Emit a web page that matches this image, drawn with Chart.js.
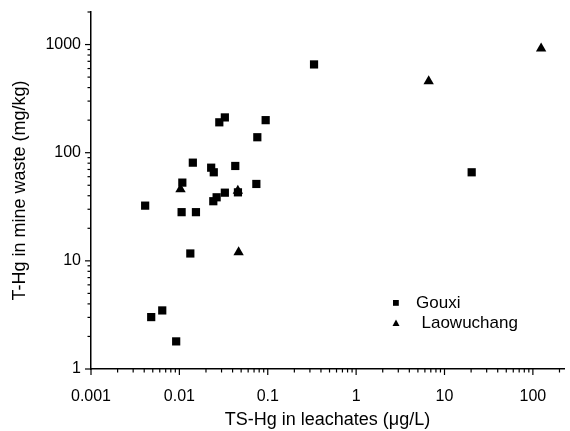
<!DOCTYPE html>
<html>
<head>
<meta charset="utf-8">
<script src="https://cdn.jsdelivr.net/npm/chart.js@4"></script>
<style>
  body { margin: 0; background: #fff; }
  #wrap { width: 570px; height: 431px; }
</style>
</head>
<body>
<div id="wrap"><canvas id="grafico"></canvas></div>
<script>
// TS-Hg in leachates (ug/L) vs T-Hg in mine waste (mg/kg)
const gouxiX = [0.0041, 0.0048, 0.0064, 0.0092, 0.0106, 0.0108, 0.0133, 0.0142, 0.0154, 0.0229, 0.0242, 0.0245, 0.0264, 0.0283, 0.0327, 0.0327, 0.0429, 0.046, 0.0743, 0.0762, 0.0947, 0.334, 20.3];
const gouxiY = [32.4, 3.02, 3.48, 1.80, 28.2, 52.9, 11.7, 80.9, 28.2, 72.7, 35.6, 65.9, 38.7, 191, 42.7, 212, 75.4, 43, 51.4, 139, 200, 655, 65.9];
const laowuX = [0.0103, 0.0459, 0.0468, 6.62, 124];
const laowuY = [45.9, 44.6, 12.0, 459, 920];
const seriesNames = ['Gouxi', 'Laowuchang'];
const xTickLabels = [0.001, 0.01, 0.1, 1, 10, 100];
const yTickLabels = [1, 10, 100, 1000];

const FONT = '"Liberation Sans", Arial, sans-serif';

function pares(xs, ys) {
    return xs.map(function (x, i) { return { x: x, y: ys[i] }; });
}

function ehPotencia(v) {
    const l = Math.log10(v);
    return Math.abs(l - Math.round(l)) < 1e-9;
}

function ehInteiro(v) {
    const s = v / Math.pow(10, Math.floor(Math.log10(v) + 1e-9));
    return Math.abs(s - Math.round(s)) < 1e-6;
}

function rotulo(lista, v) {
    const t = lista.find(function (k) { return Math.abs(Math.log10(k) - Math.log10(v)) < 1e-9; });
    return t !== undefined ? String(t) : '';
}

// tick marks: long for decades, short for the rest
const marcasPlugin = {
    id: 'marcas',
    afterDraw(chart) {
        const ctx = chart.ctx;
        ctx.save();
        ctx.strokeStyle = '#000';
        ctx.lineWidth = 1.2;
        const sx = chart.scales.x, sy = chart.scales.y;
        sx.ticks.forEach(function (t) {
            if (!ehInteiro(t.value)) return;
            const p = sx.getPixelForValue(t.value);
            const len = ehPotencia(t.value) ? 6 : 3.5;
            ctx.beginPath();
            ctx.moveTo(p, sx.top);
            ctx.lineTo(p, sx.top + len);
            ctx.stroke();
        });
        sy.ticks.forEach(function (t) {
            if (!ehInteiro(t.value)) return;
            const p = sy.getPixelForValue(t.value);
            const len = ehPotencia(t.value) ? 6 : 3.5;
            ctx.beginPath();
            ctx.moveTo(sy.right, p);
            ctx.lineTo(sy.right - len, p);
            ctx.stroke();
        });
        ctx.restore();
    }
};

// legend inside the plot area
const legendaPlugin = {
    id: 'legenda',
    afterDraw(chart) {
        const ctx = chart.ctx;
        ctx.save();
        ctx.fillStyle = '#000';
        ctx.fillRect(393, 300, 5.8, 5.8);
        ctx.beginPath();
        ctx.moveTo(396, 319.5);
        ctx.lineTo(399.5, 326);
        ctx.lineTo(392.5, 326);
        ctx.closePath();
        ctx.fill();
        ctx.font = '17px ' + FONT;
        ctx.fillStyle = '#000';
        ctx.textBaseline = 'middle';
        ctx.fillText(seriesNames[0], 416, 303);
        ctx.fillText(seriesNames[1], 421.5, 323.5);
        ctx.restore();
    }
};

new Chart(document.getElementById('grafico'), {
    type: 'scatter',
    data: {
        datasets: [{
            label: seriesNames[0],
            data: pares(gouxiX, gouxiY),
            pointStyle: 'rect',
            pointRadius: 5.8,
            backgroundColor: '#000',
            borderWidth: 0
        }, {
            label: seriesNames[1],
            data: pares(laowuX, laowuY),
            pointStyle: 'triangle',
            pointRadius: 6,
            backgroundColor: '#000',
            borderWidth: 0
        }]
    },
    options: {
        responsive: true,
        maintainAspectRatio: false,
        animation: false,
        layout: { padding: { top: 12, right: 0, left: 0, bottom: 0 } },
        plugins: {
            legend: { display: false },
            tooltip: { enabled: false }
        },
        scales: {
            x: {
                type: 'logarithmic',
                min: 0.001,
                max: 225,
                afterFit: function (s) { s.height = 62; s.paddingLeft = 0; s.paddingRight = 0; },
                border: { display: true, color: '#000', width: 1.5 },
                grid: { display: false, drawTicks: false },
                ticks: {
                    autoSkip: false,
                    maxRotation: 0,
                    padding: 18,
                    color: '#000',
                    font: { family: FONT, size: 16 },
                    callback: function (v) { return rotulo(xTickLabels, v); }
                },
                title: {
                    display: true,
                    text: 'TS-Hg in leachates (μg/L)',
                    color: '#000',
                    font: { family: FONT, size: 18 },
                    padding: { top: 0, bottom: 0 }
                }
            },
            y: {
                type: 'logarithmic',
                min: 1,
                max: 2000,
                afterFit: function (s) { s.width = 91; s.paddingTop = 0; s.paddingBottom = 0; },
                border: { display: true, color: '#000', width: 1.5 },
                grid: { display: false, drawTicks: false },
                ticks: {
                    autoSkip: false,
                    padding: 10,
                    color: '#000',
                    font: { family: FONT, size: 16 },
                    callback: function (v) { return rotulo(yTickLabels, v); }
                },
                title: {
                    display: true,
                    text: 'T-Hg in mine waste (mg/kg)',
                    color: '#000',
                    font: { family: FONT, size: 18 },
                    padding: { top: 9, bottom: 0 }
                }
            }
        }
    },
    plugins: [marcasPlugin, legendaPlugin]
});
</script>
</body>
</html>
